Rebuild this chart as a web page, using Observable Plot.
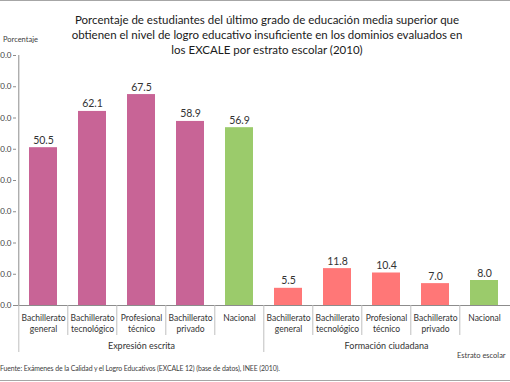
<!DOCTYPE html>
<html>
<head>
<meta charset="utf-8">
<script src="https://cdn.jsdelivr.net/npm/d3@7"></script>
<script src="https://cdn.jsdelivr.net/npm/@observablehq/plot@0.6"></script>
<style>
  html, body { margin: 0; padding: 0; background: #fff; }
  #wrap { position: relative; width: 510px; height: 382px; overflow: hidden; font-family: Lato, "Open Sans", sans-serif; }
  #chart { position: absolute; left: 0; top: 0; }
  .txt { position: absolute; white-space: nowrap; z-index: 2; }
  #title { top: 12px; left: 67px; width: 400px; text-align: center; font-size: 11.5px; line-height: 15px; color: #1a1a1a; }
  #ylab { top: 35px; left: 3px; font-size: 7.5px; color: #404040; }
  #xlab { top: 351px; left: 457px; font-size: 7.5px; color: #404040; }
  #src { top: 364px; left: 0px; font-size: 6.9px; color: #404040; letter-spacing: -0.1px; }
  .hline { position: absolute; left: 0; width: 510px; height: 0; border-top: 1px solid #a6a6a6; z-index: 2; }
</style>
</head>
<body>
<div id="wrap">
  <div class="hline" style="top:0px"></div>
  <div id="chart"></div>
  <div id="title" class="txt">Porcentaje de estudiantes del último grado de educación media superior que<br>obtienen el nivel de logro educativo insuficiente en los dominios evaluados en<br>los EXCALE por estrato escolar (2010)</div>
  <div id="ylab" class="txt">Porcentaje</div>
  <div id="xlab" class="txt">Estrato escolar</div>
  <div id="src" class="txt">Fuente: Exámenes de la Calidad y el Logro Educativos (EXCALE 12) (base de datos), INEE (2010).</div>
  <div class="hline" style="top:380px"></div>
</div>
<script>
// ---- data ----
const groups = ["Expresión escrita", "Formación ciudadana"];
const categories = ["Bachillerato\ngeneral", "Bachillerato\ntecnológico", "Profesional\ntécnico", "Bachillerato\nprivado", "Nacional"];
const expresionEscrita = [50.5, 62.1, 67.5, 58.9, 56.9];
const formacionCiudadana = [5.5, 11.8, 10.4, 7.0, 8.0];
const yTicks = [0, 10, 20, 30, 40, 50, 60, 70, 80];

// ---- table ----
const series = [expresionEscrita, formacionCiudadana];
const data = [];
groups.forEach((g, gi) => {
  categories.forEach((c, ci) => {
    data.push({group: g, gi, ci, cat: c, key: g + "|" + c, value: series[gi][ci]});
  });
});
const groupLabels = groups.map((g, gi) => ({group: g, key: g + "|" + categories[2]}));

const groupColors = ["#C86496", "#FF7777"];
const nationalColor = "#9BCB6B";
const fillOf = d => d.cat === "Nacional" ? nationalColor : groupColors[d.gi];

const W = 510, H = 382;
const mL = 16, mR = 0, mT = 55, mB = 77;
const step = (W - mL - mR) / data.length;
const innerH = H - mT - mB;

const chart = Plot.plot({
  width: W,
  height: H,
  marginLeft: mL,
  marginRight: mR,
  marginTop: mT,
  marginBottom: mB,
  style: {fontFamily: "Lato, 'Open Sans', sans-serif", fontSize: "10px", background: "transparent", overflow: "visible"},
  x: {domain: data.map(d => d.key), paddingInner: 0.43, paddingOuter: 0.215, axis: null},
  y: {domain: [0, 80], axis: null, label: null},
  marks: [
    Plot.barY(data, {x: "key", y: "value", fill: fillOf}),
    Plot.ruleY([0], {stroke: "#8c8c8c"}),
    // short separators between categories
    Plot.ruleX(data.filter(d => d.ci !== 0), {x: "key", dx: -step / 2, stroke: "#bfbfbf", insetTop: innerH, insetBottom: -30}),
    // group separators (first one also serves as the value axis line)
    Plot.ruleX(data.filter(d => d.ci === 0 && d.gi > 0), {x: "key", dx: -step / 2, stroke: "#bfbfbf", insetTop: innerH, insetBottom: -47}),
    Plot.ruleX(data.filter(d => d.ci === 0 && d.gi === 0), {x: "key", dx: -step / 2, stroke: "#8c8c8c", insetTop: 0, insetBottom: 0}),
    Plot.ruleX(data.filter(d => d.ci === 0 && d.gi === 0), {x: "key", dx: -step / 2, stroke: "#bfbfbf", insetTop: innerH, insetBottom: -47}),
    Plot.axisY({ticks: yTicks, tickFormat: d => d.toFixed(1), label: null, tickSize: 3, tickPadding: 2, fontSize: 8, fill: "#404040", stroke: "#8c8c8c"}),
    Plot.text(data, {x: "key", y: "value", text: d => d.value.toFixed(1), lineAnchor: "bottom", dy: -4, fontSize: 10.5, fill: "#333"}),
    Plot.text(data, {x: "key", frameAnchor: "bottom", text: "cat", lineAnchor: "top", dy: 7, lineHeight: 1.36, fontSize: 8.5, fill: "#333"}),
    Plot.text(groupLabels, {x: "key", frameAnchor: "bottom", text: "group", lineAnchor: "middle", dy: 41, fontSize: 9, fill: "#333"})
  ]
});
document.getElementById("chart").appendChild(chart);
</script>
</body>
</html>
